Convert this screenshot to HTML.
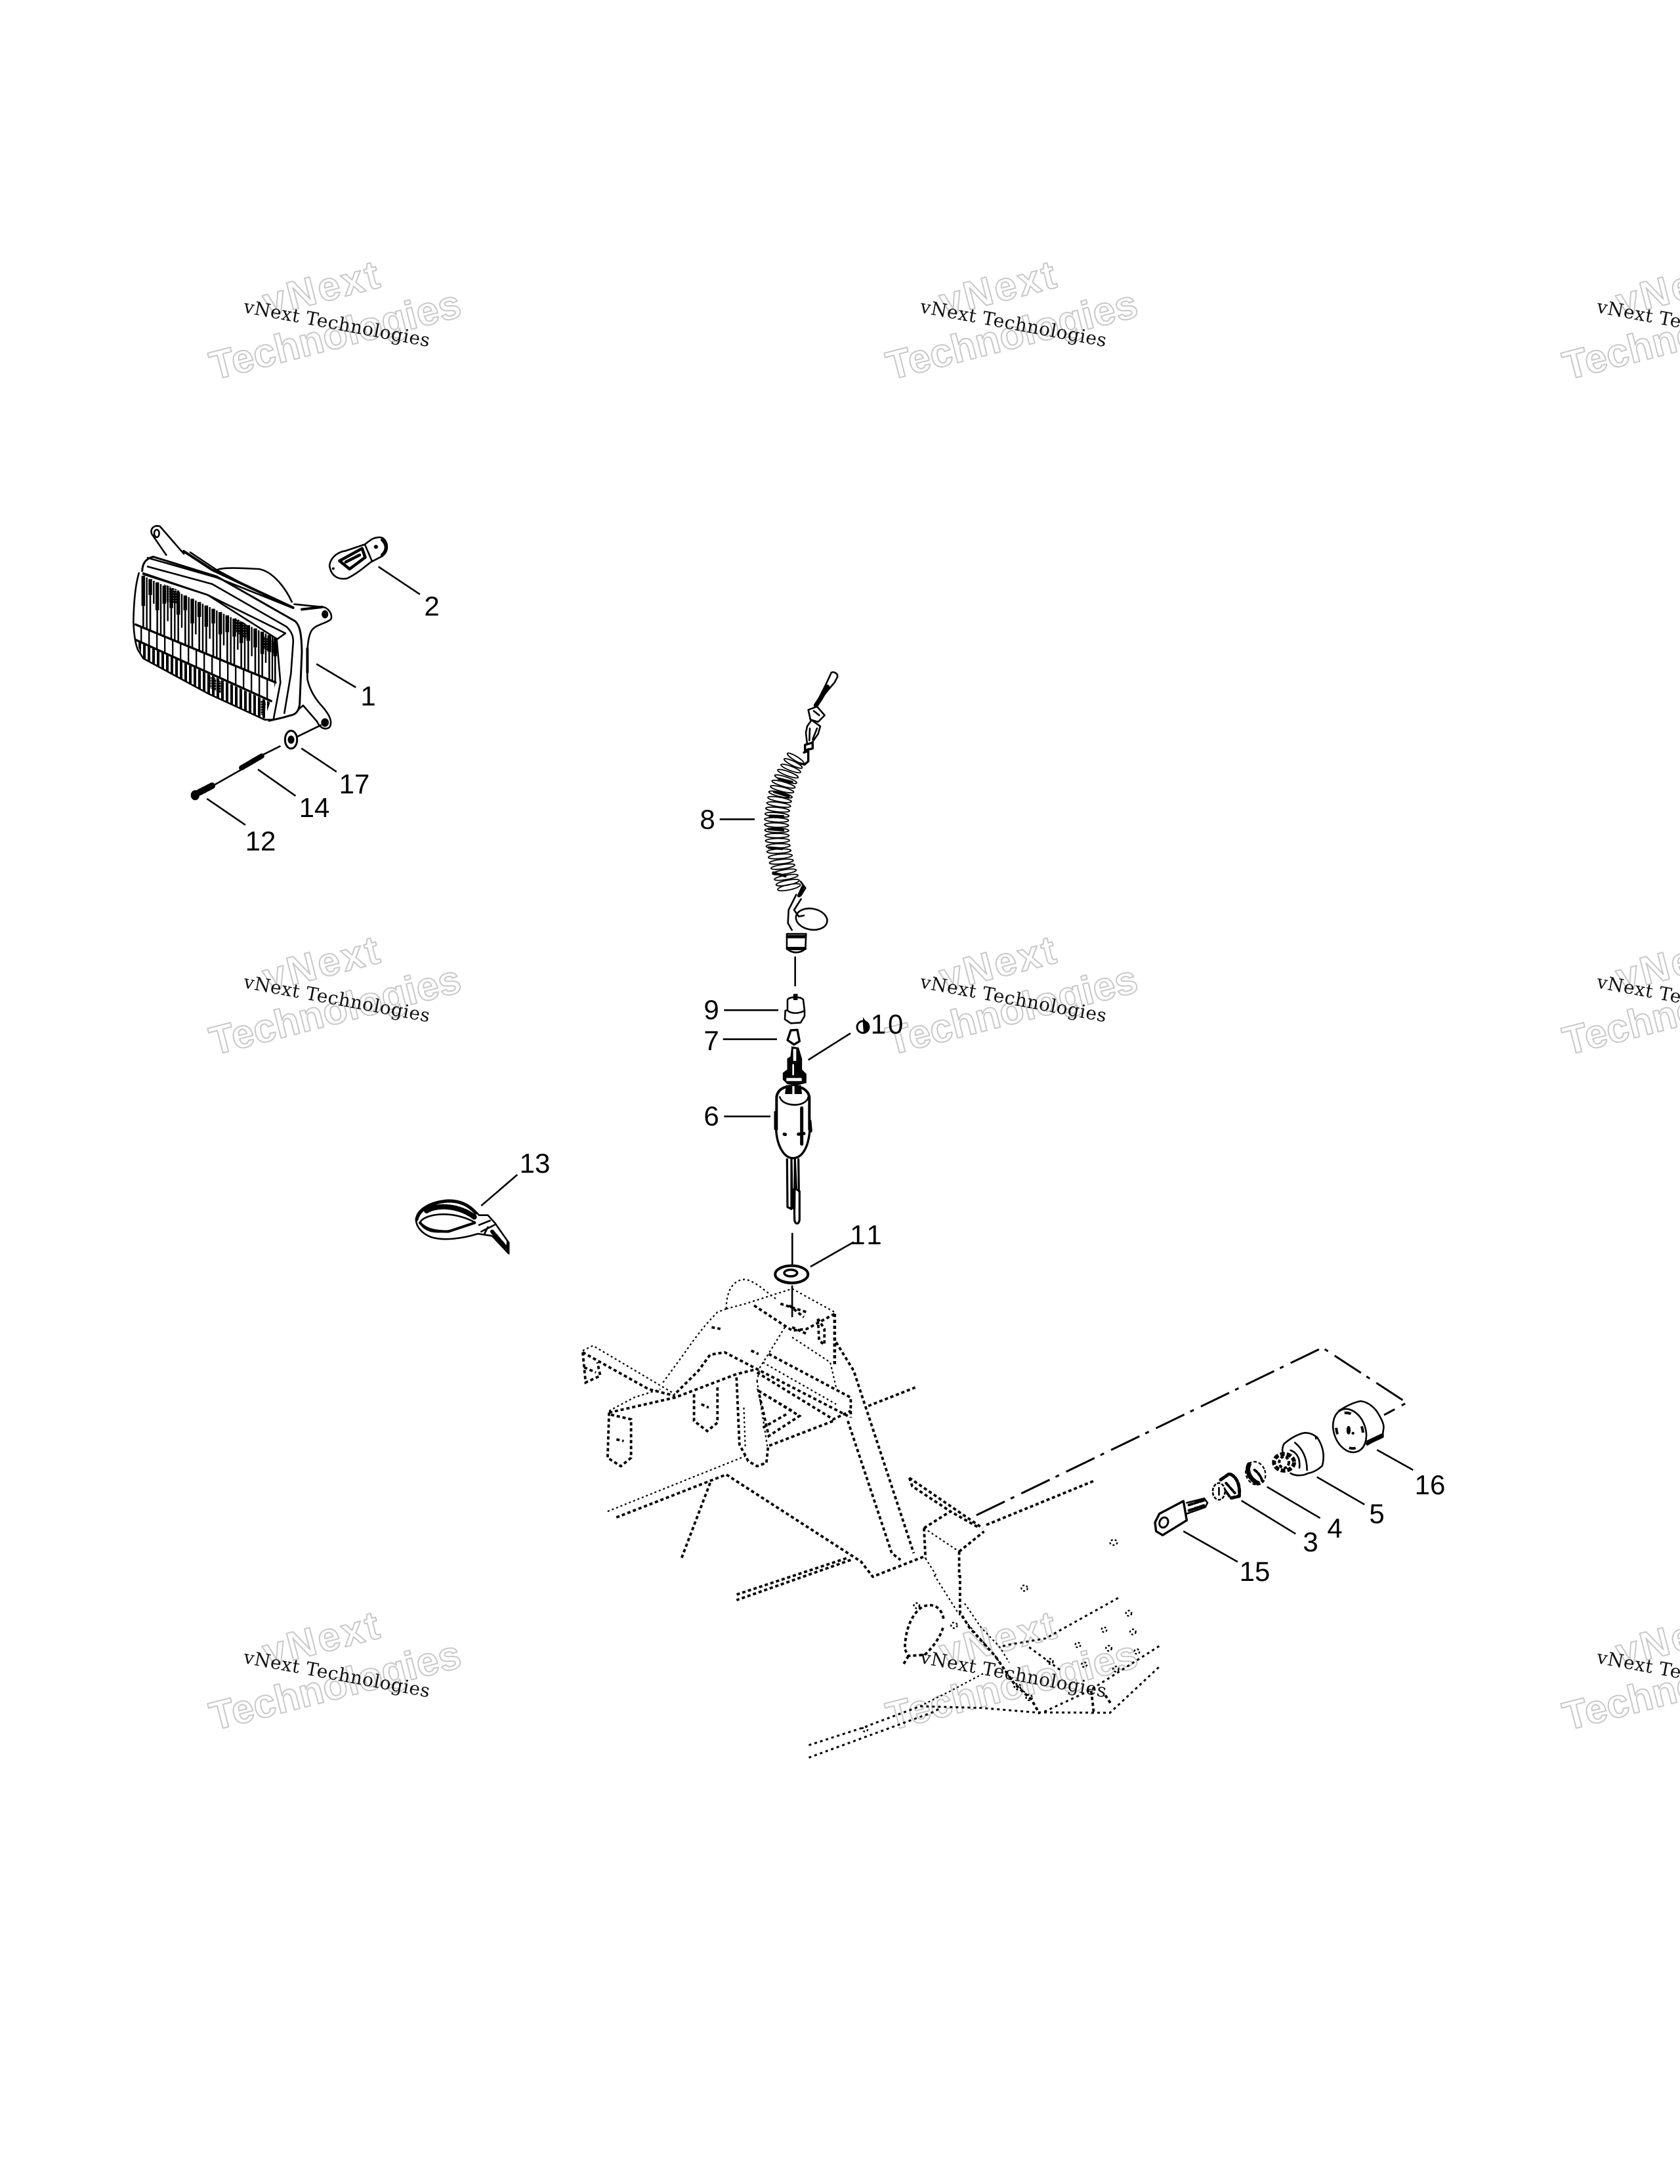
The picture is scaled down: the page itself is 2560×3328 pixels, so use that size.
<!DOCTYPE html>
<html><head><meta charset="utf-8"><title>Diagram</title>
<style>
html,body{margin:0;padding:0;background:#fff}
svg{display:block}
.l{font-family:"Liberation Sans",sans-serif;font-size:42px;fill:#000;text-anchor:middle}
.w{font-family:"DejaVu Serif","Liberation Serif",serif;font-size:28px;fill:#111}
.o{font-family:"Liberation Sans",sans-serif;font-size:61px;font-weight:bold;fill:none;stroke:#c8c8c8;stroke-width:2;stroke-linejoin:round}
path,line,ellipse,polygon,polyline,circle,rect{vector-effect:non-scaling-stroke}
.s{fill:none;stroke:#000;stroke-width:2.6;stroke-linejoin:round;stroke-linecap:round}
.b{fill:#fff;stroke:#000;stroke-width:2.6;stroke-linejoin:round}
.k{fill:#000;stroke:#000;stroke-width:1}
.ld{fill:none;stroke:#000;stroke-width:2.6}
.t1{fill:none;stroke:#000;stroke-width:2.2;stroke-dasharray:3 4}
.t2{fill:none;stroke:#000;stroke-width:3.8;stroke-dasharray:5 4}
.t3{fill:none;stroke:#000;stroke-width:3;stroke-dasharray:4 5}
.c{fill:none;stroke:#000;stroke-width:1.8}
.d{fill:none;stroke:#000;stroke-width:2.4;stroke-dasharray:3 3}
</style></head><body>
<svg xmlns="http://www.w3.org/2000/svg" width="2560" height="3328" viewBox="0 0 2560 3328">
<defs>
<pattern id="cell" patternUnits="userSpaceOnUse" width="36" height="10"><rect width="7" height="10" fill="#000"/></pattern>
<pattern id="low" patternUnits="userSpaceOnUse" width="21" height="10"><rect width="12" height="10" fill="#000"/></pattern>
<pattern id="dk" patternUnits="userSpaceOnUse" width="12" height="12"><rect width="10" height="10" fill="#000"/></pattern>
</defs>
<rect width="2560" height="3328" fill="#fff"/>

<!-- watermarks -->
<g transform="translate(0,0)">
<text class="o" transform="translate(407,482) rotate(-14.4)" textLength="180">vNext</text>
<text class="o" transform="translate(326,579) rotate(-14.4)" textLength="392">Technologies</text>
<text class="w" transform="translate(370,476) rotate(10.5)" textLength="288">vNext Technologies</text>
</g>
<g transform="translate(1031,0)">
<text class="o" transform="translate(407,482) rotate(-14.4)" textLength="180">vNext</text>
<text class="o" transform="translate(326,579) rotate(-14.4)" textLength="392">Technologies</text>
<text class="w" transform="translate(370,476) rotate(10.5)" textLength="288">vNext Technologies</text>
</g>
<g transform="translate(2062,0)">
<text class="o" transform="translate(407,482) rotate(-14.4)" textLength="180">vNext</text>
<text class="o" transform="translate(326,579) rotate(-14.4)" textLength="392">Technologies</text>
<text class="w" transform="translate(370,476) rotate(10.5)" textLength="288">vNext Technologies</text>
</g>
<g transform="translate(0,1029)">
<text class="o" transform="translate(407,482) rotate(-14.4)" textLength="180">vNext</text>
<text class="o" transform="translate(326,579) rotate(-14.4)" textLength="392">Technologies</text>
<text class="w" transform="translate(370,476) rotate(10.5)" textLength="288">vNext Technologies</text>
</g>
<g transform="translate(1031,1029)">
<text class="o" transform="translate(407,482) rotate(-14.4)" textLength="180">vNext</text>
<text class="o" transform="translate(326,579) rotate(-14.4)" textLength="392">Technologies</text>
<text class="w" transform="translate(370,476) rotate(10.5)" textLength="288">vNext Technologies</text>
</g>
<g transform="translate(2062,1029)">
<text class="o" transform="translate(407,482) rotate(-14.4)" textLength="180">vNext</text>
<text class="o" transform="translate(326,579) rotate(-14.4)" textLength="392">Technologies</text>
<text class="w" transform="translate(370,476) rotate(10.5)" textLength="288">vNext Technologies</text>
</g>
<g transform="translate(0,2058)">
<text class="o" transform="translate(407,482) rotate(-14.4)" textLength="180">vNext</text>
<text class="o" transform="translate(326,579) rotate(-14.4)" textLength="392">Technologies</text>
<text class="w" transform="translate(370,476) rotate(10.5)" textLength="288">vNext Technologies</text>
</g>
<g transform="translate(1031,2058)">
<text class="o" transform="translate(407,482) rotate(-14.4)" textLength="180">vNext</text>
<text class="o" transform="translate(326,579) rotate(-14.4)" textLength="392">Technologies</text>
<text class="w" transform="translate(370,476) rotate(10.5)" textLength="288">vNext Technologies</text>
</g>
<g transform="translate(2062,2058)">
<text class="o" transform="translate(407,482) rotate(-14.4)" textLength="180">vNext</text>
<text class="o" transform="translate(326,579) rotate(-14.4)" textLength="392">Technologies</text>
<text class="w" transform="translate(370,476) rotate(10.5)" textLength="288">vNext Technologies</text>
</g>

<!-- lens, native crop coordinates -->
<g transform="translate(190,840) scale(.3333)">
<path class="s" style="stroke-width:3" d="M80,90 C82,55 95,35 130,25 L420,115 L780,320 C800,340 808,370 810,460 L800,700 C795,730 785,745 760,750 L725,760 L660,775"/>
<path class="s" d="M105,70 L400,150 L740,345 C765,370 772,390 770,420 L760,560 L730,740"/>
<path class="s" d="M85,100 L380,200 L735,375 L700,400"/>
<path class="s" d="M105,30 L420,120 L770,260"/>
<path class="s" d="M65,100 C50,150 42,220 40,320 C42,380 48,420 60,450 L85,490 L380,650 L640,770 L680,770 L712,600 L695,400"/>
<path class="s" d="M85,105 L380,200 L695,400"/>
<path fill="none" stroke="#000" stroke-width="5.5" d="M85,112 V250 M117,127 V200 M149,142 V270 M181,157 V240 M213,172 V260 M245,187 V290 M277,202 V270 M309,217 V330 M341,232 V300 M373,248 V345 M405,263 V330 M437,278 V380 M469,293 V370 M501,308 V390 M533,323 V420 M565,338 V410 M597,353 V440 M629,368 V470 M661,383 V460 M688,397 V480"/>
<path fill="none" stroke="#000" stroke-width="2.6" d="M85,250 V350 M117,200 V363 M149,270 V376 M181,240 V390 M213,260 V403 M245,290 V416 M277,270 V429 M309,330 V442 M341,300 V456 M373,345 V469 M405,330 V482 M437,380 V496 M469,370 V509 M501,390 V522 M533,420 V535 M565,410 V549 M597,440 V562 M629,470 V575 M661,460 V588 M688,480 V600"/>
<path fill="none" stroke="#000" stroke-width="2.4" d="M101,120 V356 M133,135 V240 M165,150 V383 M197,165 V320 M229,180 V410 M261,195 V350 M293,210 V436 M325,225 V380 M357,240 V462 M389,255 V400 M421,271 V489 M453,286 V430 M485,301 V515 M517,316 V450 M549,331 V542 M581,346 V480 M613,361 V568 M645,376 V510 M675,390 V594"/>
<polygon fill="url(#dk)" points="180,150 250,180 250,240 180,230"/>
<polygon fill="url(#dk)" points="505,305 560,335 555,400 510,370"/>
<polygon fill="url(#dk)" points="630,385 690,420 685,470 625,440"/>
<polygon fill="url(#cell)" points="50,335 690,600 670,685 50,405"/>
<polygon fill="url(#low)" points="50,410 665,690 640,765 380,650 85,490"/>
<polygon fill="url(#dk)" points="390,570 440,595 440,650 390,625"/>
<polygon fill="url(#dk)" points="610,675 645,690 640,755 610,740"/>
<path class="s" style="stroke-width:3.4" d="M50,335 L690,600 M50,405 L670,685"/>
<path class="s" style="stroke-width:4" d="M270,0 L400,85 L770,258"/>
<path class="s" d="M300,5 L420,85 L560,160"/>
</g>

<!-- headlight bracket and hardware -->
<g transform="translate(150,760) scale(.3827,.3571)">
<path class="s" d="M270,240 L212,150 C205,125 225,110 245,118 L340,235"/>
<path class="s" d="M470,305 C490,292 560,295 640,300 C690,310 740,370 770,440"/>
<path class="s" d="M780,450 L890,462 C915,462 935,495 925,515 C900,535 870,535 850,560 C832,590 830,640 832,770 C840,810 860,850 890,885 C915,915 935,950 920,975 C900,990 880,975 870,950 L815,882 L795,900"/>
<path class="s" style="stroke-width:4" d="M810,472 L890,462 M832,640 L832,740"/>
<ellipse class="k" cx="902" cy="493" rx="12" ry="16"/>
<ellipse class="k" cx="902" cy="955" rx="14" ry="17"/>
<ellipse class="s" cx="232" cy="148" rx="10" ry="16"/>
<!-- bulb -->
<path class="s" d="M920,285 C925,245 960,225 985,222 L1060,195 L1085,175 C1100,165 1125,160 1135,170 C1155,190 1155,225 1130,245 L1085,270 C1060,290 1030,320 990,340 C950,348 925,325 920,285 Z"/>
<path class="s" d="M1062,198 L1090,268"/>
<path class="s" style="stroke-width:4.5" d="M960,265 L1050,212 L1062,250 L1000,300 Z M985,270 L1040,240"/>
<path class="s" style="stroke-width:5" d="M1130,175 C1150,195 1150,220 1130,240"/>
<circle class="k" cx="1105" cy="205" r="7"/>
<circle class="k" cx="935" cy="298" r="4"/>
<!-- hardware -->
<path class="ld" d="M888,965 L792,1015 M725,1055 L650,1095 M570,1155 L455,1225"/>
<ellipse class="s" cx="767" cy="1028" rx="24" ry="38" style="stroke-width:3"/>
<ellipse class="k" cx="767" cy="1028" rx="12" ry="16"/>
<path class="s" style="stroke-width:8;stroke-dasharray:3 2" d="M570,1148 L650,1098"/>
<path class="s" style="stroke-width:10;stroke-dasharray:4 3" d="M385,1262 L452,1225"/>
<ellipse class="k" cx="385" cy="1265" rx="16" ry="20"/>
<path class="ld" d="M1115,290 L1280,408 M868,705 L1025,805 M808,1065 L948,1165 M635,1155 L785,1268 M432,1280 L585,1392"/>
</g>

<!-- coil, native crop coordinates -->
<g transform="translate(1130,1010) scale(.3333)">
<path class="s" d="M410,45 C420,38 442,48 438,65 L425,90 L395,125 L375,150 M408,50 L385,100 L350,170"/>
<path class="s" style="stroke-width:7" d="M392,110 L360,165 L340,195"/>
<path class="s" d="M305,215 L345,200 L380,240 L350,270 L315,260 Z M330,220 L355,240"/>
<path class="s" d="M300,290 L320,262 L360,290 L350,325 L322,365 L300,372 L294,320 Z M312,300 L310,355 M345,300 L325,350"/>
<path class="s" style="stroke-width:3.4" d="M290,375 L325,365 L325,392 L290,400 Z M285,410 L300,405 M305,395 L305,450 L288,465 L268,460"/>
<g class="c">
<ellipse cx="247" cy="437" rx="44" ry="10" transform="rotate(31 247 437)"/>
<ellipse cx="236" cy="460" rx="46" ry="10" transform="rotate(26 236 460)"/>
<ellipse cx="225" cy="483" rx="48" ry="10" transform="rotate(21 225 483)"/>
<ellipse cx="212" cy="507" rx="50" ry="10" transform="rotate(20 212 507)"/>
<ellipse cx="202" cy="532" rx="53" ry="10" transform="rotate(19 202 532)"/>
<ellipse cx="192" cy="555" rx="55" ry="10" transform="rotate(16 192 555)"/>
<ellipse cx="185" cy="578" rx="55" ry="10" transform="rotate(14 185 578)"/>
<ellipse cx="178" cy="602" rx="55" ry="10" transform="rotate(13 178 602)"/>
<ellipse cx="174" cy="625" rx="55" ry="10" transform="rotate(10 174 625)"/>
<ellipse cx="170" cy="648" rx="55" ry="10" transform="rotate(8 170 648)"/>
<ellipse cx="165" cy="671" rx="55" ry="10" transform="rotate(6 165 671)"/>
<ellipse cx="162" cy="695" rx="55" ry="10" transform="rotate(5 162 695)"/>
<ellipse cx="160" cy="718" rx="55" ry="10" transform="rotate(3 160 718)"/>
<ellipse cx="160" cy="742" rx="55" ry="10" transform="rotate(2 160 742)"/>
<ellipse cx="161" cy="766" rx="55" ry="10" transform="rotate(1 161 766)"/>
<ellipse cx="162" cy="790" rx="55" ry="10"/>
<ellipse cx="164" cy="813" rx="55" ry="10" transform="rotate(-1 164 813)"/>
<ellipse cx="167" cy="837" rx="55" ry="10" transform="rotate(-2 167 837)"/>
<ellipse cx="171" cy="861" rx="55" ry="10" transform="rotate(-3 171 861)"/>
<ellipse cx="177" cy="885" rx="55" ry="10" transform="rotate(-5 177 885)"/>
<ellipse cx="182" cy="909" rx="55" ry="10" transform="rotate(-6 182 909)"/>
<ellipse cx="189" cy="932" rx="55" ry="10" transform="rotate(-8 189 932)"/>
<ellipse cx="196" cy="956" rx="55" ry="10" transform="rotate(-9 196 956)"/>
<ellipse cx="204" cy="981" rx="55" ry="10" transform="rotate(-10 204 981)"/>
<ellipse cx="211" cy="1005" rx="54" ry="11" transform="rotate(-11 211 1005)"/>
<ellipse cx="217" cy="1026" rx="53" ry="12" transform="rotate(-12 217 1026)"/>
</g>
<path class="s" style="stroke-width:4" d="M130,700 L190,702 M125,760 L190,765 M125,845 L185,850 M150,590 L215,610 M170,530 L230,545 M145,960 L200,975"/>
<path class="s" d="M270,1000 L292,1030 L270,1065 M250,1060 L215,1130 L212,1190 L230,1222 M272,1080 L240,1130 L262,1160 L285,1155"/>
<path class="s" style="stroke-width:5" d="M280,1025 L262,1065"/>
<ellipse class="s" cx="320" cy="1172" rx="72" ry="48" transform="rotate(10 320 1172)"/>
</g>

<!-- switch parts -->
<g transform="translate(1000,1000) scale(.3333,.606)">
<path class="b" d="M597,698 L685,698 L682,735 C660,748 620,748 597,735 Z"/>
<path class="s" style="stroke-width:5" d="M600,705 L680,705 M600,735 L680,735"/>
<line class="ld" x1="635" y1="755" x2="635" y2="830"/>
<!-- wires -->
<path class="s" style="stroke-width:3.2" d="M598,1265 L600,1385 L618,1390 L618,1265 M618,1265 L622,1385 L632,1390 L634,1265 M634,1265 L640,1340 L655,1345 L655,1415 C655,1430 632,1430 632,1415 L630,1340 M650,1265 L652,1345"/>
<line class="ld" x1="622" y1="1450" x2="622" y2="1530"/>
<path class="s" style="stroke-width:3.4" d="M548,1190 C552,1232 585,1262 625,1262 C670,1262 697,1232 702,1190"/>
<path class="ld" d="M290,410 L450,410 M310,890 L558,890 M305,963 L552,963 M310,1157 L522,1157 M695,1015 L888,948 M705,1535 L903,1473"/>
</g>
<g transform="translate(1150,1490) scale(.3333)">
<path class="s" d="M150,100 C160,85 210,85 222,100 L228,150 L228,175 L210,205 L165,208 L138,190 L140,150 L150,148 Z M150,150 C170,165 200,165 228,150"/>
<path class="k" d="M178,75 L195,75 L195,100 L178,100 Z"/>
<path class="s" style="stroke-width:3.4" d="M165,240 L195,238 L205,290 L180,305 L150,285 Z"/>
<path class="k" d="M170,315 L200,320 L215,370 L215,420 L235,440 L235,480 L190,490 L150,485 L130,465 L130,435 L150,420 L150,370 L165,360 Z"/>
<path d="M176,325 L190,325 L190,380 L176,380 Z M172,395 L180,395 L180,445 L172,445 Z M145,458 L215,458 L215,472 L145,472 Z" fill="#fff"/>
<path class="s" style="stroke-width:4" d="M100,693 L100,545 C105,510 135,495 175,495 C215,495 245,515 250,545 L250,693"/>
<path class="s" d="M115,545 C125,590 235,595 245,545"/>
<path class="k" d="M145,492 L210,492 L215,530 L140,530 Z"/>
<path d="M172,495 L182,495 L182,535 L172,535 Z" fill="#fff"/>
<path class="s" style="stroke-width:5" d="M96,615 L96,690 M252,655 L256,700 M215,595 L215,760 M135,715 L140,716 M200,715 L225,712"/>
</g>

<!-- tie -->
<g transform="translate(600,1720) scale(.3333)">
<path class="b" d="M102,420 C100,370 170,330 250,328 C310,328 350,350 390,395 L430,395 L462,430 L525,520 L525,570 L450,490 L385,480 C320,500 230,515 170,495 C130,480 105,450 102,420 Z"/>
<path class="s" d="M122,425 C140,395 250,365 372,428 C300,460 220,480 170,468 C140,458 125,445 122,425 Z"/>
<path class="s" style="stroke-width:5" d="M105,415 C115,370 170,335 250,330 C300,330 340,345 375,385"/>
<path class="s" style="stroke-width:8;stroke-dasharray:2 3" d="M150,375 C200,345 300,350 370,405"/>
<path class="s" style="stroke-width:4" d="M120,430 C150,465 200,470 250,470 L370,430"/>
<path class="s" d="M390,440 L440,420 M400,470 L460,440 M415,480 L430,450"/>
<path class="s" style="stroke-width:6;stroke-dasharray:4 3" d="M450,470 L510,540"/>
<path class="k" d="M518,510 L528,520 L528,572 L515,560 Z"/>
<line class="ld" x1="400" y1="352" x2="565" y2="210"/>
</g>

<!-- frame -->
<g transform="translate(850,1900) scale(.4464,.5102)">
<path class="t1" d="M575,185 C575,130 600,97 640,97 C680,105 710,135 745,155"/>
<path class="t1" d="M575,185 L545,195 C500,235 470,270 430,320 L355,410"/>
<path class="t1" d="M575,185 L640,170 L800,125 L945,195"/>
<path class="t2" d="M670,175 L800,250 L850,245 L945,200"/>
<path class="t2" style="stroke-width:4.5" d="M945,200 L945,350"/>
<path class="t1" d="M800,270 L930,345 L950,420"/>
<path class="t2" d="M888,215 L892,280 L910,292 L910,245 L888,215"/>
<path class="t1" d="M775,240 L740,290 L690,360 L680,400"/>
<path class="t2" d="M760,170 L850,195 M790,175 L840,210 M800,240 L850,260"/>
<path class="t1" d="M85,310 L120,295 L400,440"/>
<path class="t2" d="M85,315 L310,425 L400,445 M85,315 L95,405 L145,385 L135,345"/>
<path class="t2" d="M175,495 L400,450 L610,380 L680,365"/>
<path class="t1" d="M175,490 L260,450 L350,425"/>
<path class="t2" d="M175,495 L170,630 L215,655 L250,630 L250,515 L175,500"/>
<path class="t2" d="M465,440 L465,520 L510,550 L545,525 L545,415"/>
<path class="t2" d="M405,435 L480,370 L520,322 L570,315 L680,365 L990,505"/>
<path class="t2" d="M720,320 L1000,450 L1000,510 M680,375 L940,515 L1000,490"/>
<path class="t1" d="M700,345 L950,470"/>
<path class="t2" d="M685,430 L825,505 L720,565 Z"/>
<path class="t2" d="M610,390 L620,590 L650,640 L680,655 L712,645 L718,595 L940,520"/>
<path class="t1" d="M635,480 L640,600 M680,400 L715,595"/>
<path class="t1" d="M170,790 L640,625"/>
<path class="t2" d="M200,808 L575,680 L1035,940 L1075,985 L1250,925"/>
<path class="t2" d="M520,705 L420,935"/>
<path class="t2" d="M990,520 L1140,915 L1170,935"/>
<path class="t2" d="M950,285 L1010,370 L1215,915"/>
<path class="t2" d="M1060,475 L1220,420"/>
<path class="t2" d="M985,930 L605,1040 M1000,935 L610,1055"/>
<path class="t2" d="M1250,840 L1340,790 L1440,840"/>
<path class="t1" d="M1250,840 L1370,910"/>
<path class="t2" d="M1370,910 L1455,850"/>
<path class="t2" d="M1250,840 L1255,930"/>
<path class="t1" d="M1255,930 L1291,980"/>
<path class="t2" d="M1370,910 L1370,985"/>
<path class="t2" d="M1200,690 L1450,840 M1200,690 L1210,715 L1340,790"/>
<path class="t2" d="M525,240 L555,245 M660,310 L685,320 M200,575 L225,580 M490,470 L515,480"/>
<path class="t2" d="M90,360 L130,375 M685,430 L800,490 M700,540 L780,500"/>
<ellipse class="s" cx="798" cy="82" rx="56" ry="26" style="stroke-width:4;fill:#fff"/>
<ellipse class="s" cx="795" cy="78" rx="22" ry="10" style="stroke-width:3.5"/>
<path class="s" style="stroke-width:3" d="M745,90 C770,112 830,112 852,90"/>
<line class="ld" x1="800" y1="115" x2="800" y2="210"/>
</g>

<!-- footboard -->
<g transform="translate(1220,2400) scale(.3571,.3333)">
<path class="t3" d="M35,778 L260,700 L510,600 L775,608 L1000,628 L1320,630 L1535,415"/>
<path class="t3" d="M35,835 L570,625 L600,605"/>
<path class="t1" d="M510,600 L565,570 L640,530 L780,450"/>
<path class="t3" d="M1355,105 L1045,290 L880,320 L850,330"/>
<path class="t3" d="M975,330 L1115,440"/>
<path class="t1" d="M570,0 L670,170 L830,370 L900,480 L990,570"/>
<path class="t2" d="M680,0 L680,170 L720,240 L830,370 L910,495 L985,570 L1020,635"/>
<path class="t1" d="M700,130 L770,240 L850,330 L890,400"/>
<path class="t3" d="M1040,625 L1230,530 L1530,325"/>
<path class="t2" d="M1240,530 L1250,620 L1240,635"/>
<path class="t2" d="M1300,550 L1325,590"/>
<path class="t2" d="M610,200 C600,150 570,125 520,145 C470,180 445,260 445,340 L460,370 L530,365 C565,330 600,280 610,230"/>
<path class="t2" d="M460,370 L435,415"/>
<g class="d">
<circle cx="955" cy="60" r="13"/><circle cx="1400" cy="175" r="12"/>
<circle cx="1295" cy="250" r="11"/><circle cx="1418" cy="260" r="12"/>
<circle cx="1183" cy="320" r="11"/><circle cx="1315" cy="335" r="12"/>
<circle cx="1435" cy="350" r="11"/><circle cx="1345" cy="430" r="12"/>
<circle cx="1210" cy="410" r="11"/><circle cx="1065" cy="395" r="12"/>
<circle cx="655" cy="230" r="13"/><circle cx="495" cy="140" r="12"/>
<circle cx="275" cy="705" r="11"/><circle cx="925" cy="510" r="13"/>
<circle cx="975" cy="560" r="13"/>
</g>
</g>

<g transform="translate(1300,2000) scale(.606,.4464)">
<path fill="none" stroke="#000" stroke-width="3" stroke-dasharray="48 10 6 12" d="M310,692 L1180,120 L1392,308 L1335,350"/>
<path class="t2" d="M335,725 L605,575"/>
<circle class="d" cx="655" cy="785" r="9"/>
</g>

<!-- lock parts, native crop coordinates -->
<g transform="translate(1740,2100) scale(.3333)">
<path class="s" d="M900,150 C930,130 965,112 1000,105 C1040,110 1070,140 1085,170 C1100,195 1108,215 1105,230 L1100,265 L1030,305"/>
<ellipse class="s" cx="950" cy="240" rx="72" ry="102" transform="rotate(-20 950 240)"/>
<ellipse cx="950" cy="240" rx="58" ry="84" transform="rotate(-20 950 240)" fill="none" stroke="#000" stroke-width="4" stroke-dasharray="10 28"/>
<ellipse class="k" cx="945" cy="238" rx="8" ry="18"/>
<circle class="k" cx="965" cy="252" r="5"/>
<path class="s" style="stroke-width:4" d="M1032,290 L1100,258 L1100,268 L1030,300"/>
<path class="s" d="M650,300 C680,275 715,255 745,250 C775,250 800,265 810,285 C830,320 835,360 825,400 C805,420 780,432 760,435 C735,448 700,448 680,435 M650,300 C640,320 640,340 650,350 M700,295 C730,320 755,360 755,420 M680,330 C710,340 725,370 720,410"/>
<path class="k" d="M790,262 L805,270 L795,280 Z"/>
<ellipse cx="650" cy="385" rx="46" ry="38" fill="#fff" stroke="#000" stroke-width="6" stroke-dasharray="7 3"/>
<ellipse cx="650" cy="385" rx="22" ry="26" fill="none" stroke="#000" stroke-width="4" stroke-dasharray="5 3"/>
<ellipse cx="520" cy="435" rx="44" ry="54" transform="rotate(-20 520 435)" fill="none" stroke="#000" stroke-width="2.2" stroke-dasharray="5 3"/>
<path class="s" style="stroke-width:7;stroke-dasharray:5 3" d="M490,395 C475,425 495,465 530,480"/>
<path class="s" style="stroke-width:4;stroke-dasharray:5 3" d="M515,420 C530,430 545,450 550,470"/>
<path class="s" style="stroke-width:5;stroke-dasharray:6 3" d="M360,465 L400,437 C435,450 450,490 445,540 L400,550"/>
<path class="s" style="stroke-width:4;stroke-dasharray:6 3" d="M385,480 L425,525 M375,505 L400,540"/>
<ellipse class="b" cx="352" cy="518" rx="28" ry="38" stroke-dasharray="5 2"/>
<path class="k" d="M350,500 L355,500 L355,535 L350,535 Z"/>
<path class="s" style="stroke-width:3.4" d="M60,660 L80,620 L190,562 L205,650 L95,718 L65,700 Z"/>
<ellipse class="s" cx="100" cy="660" rx="19" ry="24" transform="rotate(25 100 660)" style="stroke-width:3"/>
<path class="s" d="M205,570 L285,550 L300,570 L290,590 L205,620"/>
<path class="s" style="stroke-width:4;stroke-dasharray:6 3" d="M215,580 L285,558 M215,605 L290,580"/>
<path class="ld" d="M1075,328 L1240,420 M800,452 L1018,578 M572,497 L815,640 M455,560 L703,712 M190,700 L438,840"/>
</g>

<!-- labels -->
<text class="l" x="561" y="1075">1</text>
<text class="l" x="658" y="938">2</text>
<text class="l" x="1997" y="2364">3</text>
<text class="l" x="2034" y="2343">4</text>
<text class="l" x="2098" y="2321">5</text>
<text class="l" x="1084" y="1715">6</text>
<text class="l" x="1084" y="1600">7</text>
<text class="l" x="1078" y="1263">8</text>
<text class="l" x="1084" y="1553">9</text>
<text class="l" x="1353" y="1575" letter-spacing="3">10</text>
<text class="l" x="1322" y="1896" letter-spacing="5">11</text>
<text class="l" x="397" y="1296">12</text>
<text class="l" x="815" y="1787">13</text>
<text class="l" x="479" y="1245">14</text>
<text class="l" x="1912" y="2409">15</text>
<text class="l" x="2179" y="2277">16</text>
<text class="l" x="540" y="1209">17</text>
<circle cx="1315" cy="1565" r="9" fill="#fff" stroke="#000" stroke-width="3"/>
<path d="M1315,1550 L1324,1563 C1326,1570 1322,1574 1316,1574 L1315,1562 Z" fill="#000"/>
</svg>
</body></html>
